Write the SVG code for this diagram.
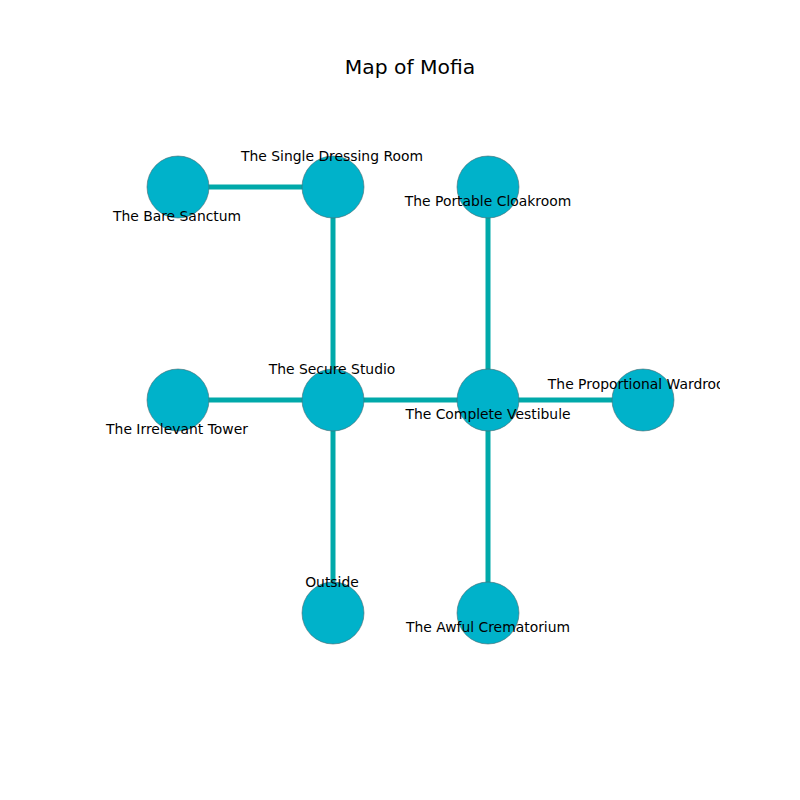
<svg xmlns="http://www.w3.org/2000/svg" width="800" height="800" viewBox="0 0 800 800">
<defs>
<style>
.edge{stroke:#00a9aa;stroke-width:5;fill:none}
.node{fill:#00b2ca;stroke:#4a6a70;stroke-width:0.6}
.lbl{font-family:"DejaVu Sans",sans-serif;font-size:13.9px;fill:#000;text-anchor:middle}
.title{font-family:"DejaVu Sans",sans-serif;font-size:20.3px;fill:#000;text-anchor:middle}
</style>
<clipPath id="ax"><rect x="80" y="80" width="640" height="640"/></clipPath>
</defs>
<rect width="800" height="800" fill="#fff"/>
<text class="title" x="410" y="74">Map of Mofia</text>
<g clip-path="url(#ax)">
<g id="connectors">
<line class="edge" x1="178" y1="187" x2="333" y2="187"/>
<line class="edge" x1="333" y1="187" x2="333" y2="400"/>
<line class="edge" x1="488" y1="187" x2="488" y2="400"/>
<line class="edge" x1="178" y1="400" x2="333" y2="400"/>
<line class="edge" x1="333" y1="400" x2="488" y2="400"/>
<line class="edge" x1="488" y1="400" x2="643" y2="400"/>
<line class="edge" x1="333" y1="400" x2="333" y2="613"/>
<line class="edge" x1="488" y1="400" x2="488" y2="613"/>
</g>
<g id="n-bare-sanctum"><circle class="node" cx="178" cy="187" r="31"/></g>
<g id="n-single-dressing-room"><circle class="node" cx="333" cy="187" r="31"/></g>
<g id="n-portable-cloakroom"><circle class="node" cx="488" cy="187" r="31"/></g>
<g id="n-irrelevant-tower"><circle class="node" cx="178" cy="400" r="31"/></g>
<g id="n-secure-studio"><circle class="node" cx="333" cy="400" r="31"/></g>
<g id="n-complete-vestibule"><circle class="node" cx="488" cy="400" r="31"/></g>
<g id="n-proportional-wardroom"><circle class="node" cx="643" cy="400" r="31"/></g>
<g id="n-outside"><circle class="node" cx="333" cy="613" r="31"/></g>
<g id="n-awful-crematorium"><circle class="node" cx="488" cy="613" r="31"/></g>
<g id="labels">
<text class="lbl" x="177" y="221">The Bare Sanctum</text>
<text class="lbl" x="332" y="161">The Single Dressing Room</text>
<text class="lbl" x="488" y="206">The Portable Cloakroom</text>
<text class="lbl" x="177" y="434">The Irrelevant Tower</text>
<text class="lbl" x="332" y="374">The Secure Studio</text>
<text class="lbl" x="488" y="419">The Complete Vestibule</text>
<text class="lbl" x="643" y="389">The Proportional Wardroom</text>
<text class="lbl" x="332" y="587">Outside</text>
<text class="lbl" x="488" y="632">The Awful Crematorium</text>
</g>
</g>
</svg>
